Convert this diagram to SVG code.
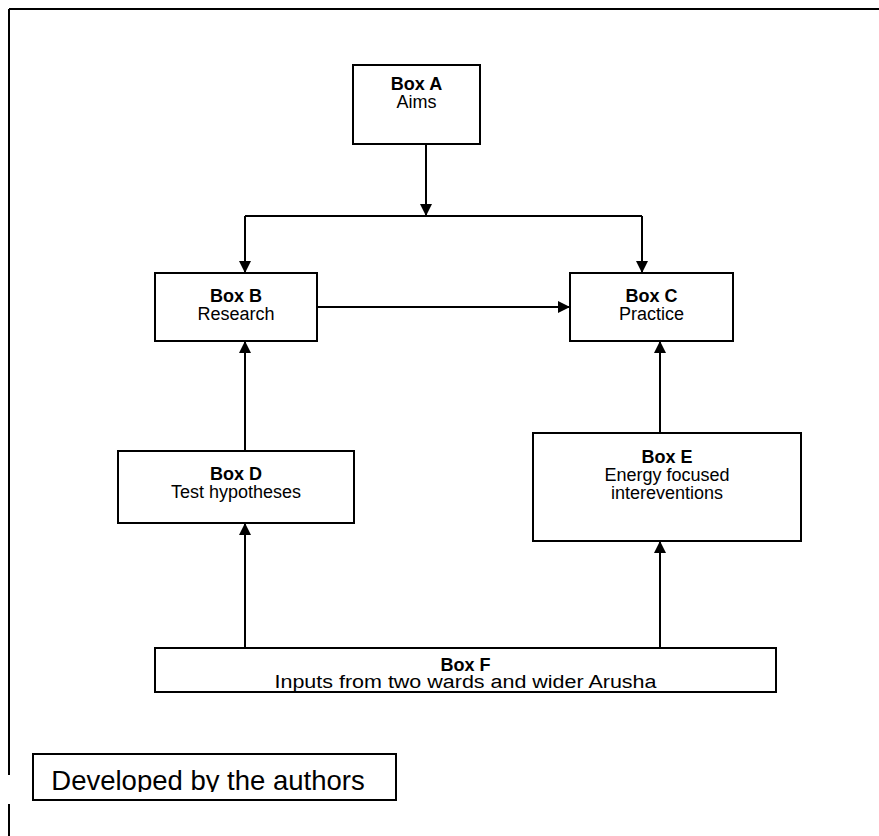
<svg xmlns="http://www.w3.org/2000/svg" width="879" height="836" viewBox="0 0 879 836">
<style>
.box{fill:#fff;stroke:#000;stroke-width:2}
.ln{fill:none;stroke:#000;stroke-width:2}
.t{font-family:"Liberation Sans",Arial,sans-serif;font-size:18px;text-anchor:middle;fill:#000}
.b{font-weight:bold}
.cap{font-size:27.5px}
</style>
<defs>
<marker id="ah" viewBox="0 0 12 12" refX="12" refY="6" markerWidth="12" markerHeight="12" markerUnits="userSpaceOnUse" orient="auto">
<path d="M0,0 L12,6 L0,12 Z" fill="#000"/>
</marker>
<clipPath id="capclip"><rect x="33" y="754" width="363" height="38"/></clipPath>
</defs>
<g id="frame">
<path class="ln" d="M9,9 H879 M9,9 V775 M9,804 V836"/>
</g>
<g id="connectors">
<path class="ln" d="M426,144 V216" marker-end="url(#ah)"/>
<path class="ln" d="M245,216 H642"/>
<path class="ln" d="M245,216 V273" marker-end="url(#ah)"/>
<path class="ln" d="M642,216 V273" marker-end="url(#ah)"/>
<path class="ln" d="M317,307 H570" marker-end="url(#ah)"/>
<path class="ln" d="M245,451 V341" marker-end="url(#ah)"/>
<path class="ln" d="M660,433 V341" marker-end="url(#ah)"/>
<path class="ln" d="M245,648 V523" marker-end="url(#ah)"/>
<path class="ln" d="M660,648 V541" marker-end="url(#ah)"/>
</g>
<g id="boxA">
<rect class="box" x="353" y="65" width="127" height="79"/>
<text class="t b" x="416.5" y="90">Box A</text>
<text class="t" x="416.5" y="108">Aims</text>
</g>
<g id="boxB">
<rect class="box" x="155" y="273" width="162" height="68"/>
<text class="t b" x="236" y="302">Box B</text>
<text class="t" x="236" y="320">Research</text>
</g>
<g id="boxC">
<rect class="box" x="570" y="273" width="163" height="68"/>
<text class="t b" x="651.5" y="302">Box C</text>
<text class="t" x="651.5" y="320">Practice</text>
</g>
<g id="boxD">
<rect class="box" x="118" y="451" width="236" height="72"/>
<text class="t b" x="236" y="480">Box D</text>
<text class="t" x="236" y="498">Test hypotheses</text>
</g>
<g id="boxE">
<rect class="box" x="533" y="433" width="268" height="108"/>
<text class="t b" x="667" y="463">Box E</text>
<text class="t" x="667" y="481">Energy focused</text>
<text class="t" x="667" y="499">intereventions</text>
</g>
<g id="boxF">
<rect class="box" x="155" y="648" width="621" height="44"/>
<text class="t b" x="465.5" y="671">Box F</text>
<text class="t" x="465.5" y="688" textLength="382" lengthAdjust="spacingAndGlyphs">Inputs from two wards and wider Arusha</text>
</g>
<g id="caption">
<rect class="box" x="33" y="754" width="363" height="46"/>
<text class="t cap" x="208" y="790" clip-path="url(#capclip)">Developed by the authors</text>
</g>
</svg>
